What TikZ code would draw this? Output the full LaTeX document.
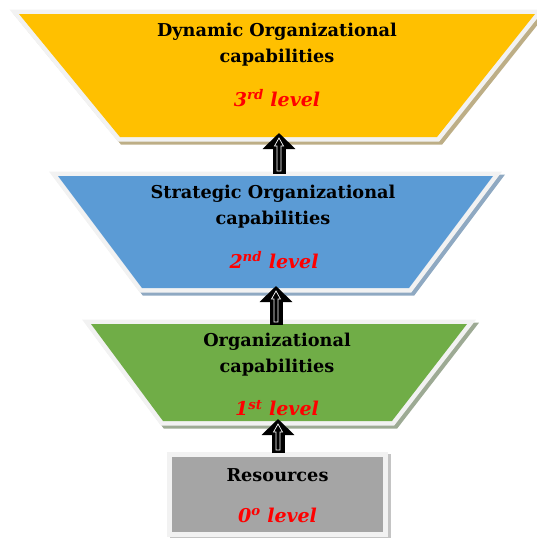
\documentclass[tikz,border=0pt]{standalone}
\usepackage{fontspec}
\setmainfont{DejaVu Serif}
\usetikzlibrary{arrows.meta,calc}
\definecolor{cyel}{HTML}{FFC000}
\definecolor{cblu}{HTML}{5B9BD5}
\definecolor{cgrn}{HTML}{70AD47}
\definecolor{cgry}{HTML}{A5A5A5}
\definecolor{syel}{HTML}{BDAE86}
\definecolor{sblu}{HTML}{8FA9C2}
\definecolor{sgrn}{HTML}{9DAA94}
\definecolor{sgry}{HTML}{C4C4C4}
\definecolor{bord}{HTML}{F2F2F2}
\definecolor{lvred}{HTML}{FF0000}
\tikzset{
  shadowband/.style={draw=#1, fill=#1, line width=9pt, line join=miter, shift={(3,3)}},
  whiteband/.style={draw=bord, fill=bord, line width=9pt, line join=miter},
  title/.style={font=\fontsize{17.7}{26}\selectfont\bfseries, align=center, inner sep=0pt, text=black},
  lvl/.style={font=\fontsize{19}{24}\selectfont\bfseries\itshape, text=lvred, inner sep=0pt},
  blockarrow/.style={line width=13pt, -{Triangle[width=32pt,length=16pt]}},
  innerarrow/.style={draw=white, line width=0.7pt, line join=miter}
}
\newcommand\mytrap[3]{%
  \path[shadowband=#2] #1;
  \path[whiteband] #1;
  \fill[#3] #1;}
\begin{document}
\begin{tikzpicture}[x=1pt,y=-1pt]
\useasboundingbox (0,0) rectangle (537,538);
% yellow level 3
\mytrap{(19,14) -- (535,14) -- (437,137) -- (120,137) -- cycle}{syel}{cyel}
% blue level 2
\mytrap{(58,176) -- (493,176) -- (409,288) -- (142,288) -- cycle}{sblu}{cblu}
% green level 1
\mytrap{(91,324) -- (467,324) -- (392,421) -- (163,421) -- cycle}{sgrn}{cgrn}
% gray level 0
\path[draw=sgry, fill=sgry, line width=10pt, shift={(3,2)}] (172,457) rectangle (383,532);
\path[draw=bord, fill=bord, line width=10pt] (172,457) rectangle (383,532);
\fill[cgry] (172,457) rectangle (383,532);

% texts
\node[title] (t3) at (277,45) {Dynamic Organizational\\capabilities};
\node[lvl] (l3) at (277,98) {3\textsuperscript{rd} level};
\node[title] (t2) at (273,206.5) {Strategic Organizational\\capabilities};
\node[lvl] (l2) at (274,260) {2\textsuperscript{nd} level};
\node[title] (t1) at (277,354.5) {Organizational\\capabilities};
\node[lvl] (l1) at (277,408) {1\textsuperscript{st} level};
\node[title] (t0) at (277.5,475) {Resources};
\node[lvl] (l0) at (277.5,515) {0\textsuperscript{o} level};

% arrow end points
\coordinate (a1s) at (279,174);
\coordinate (a1e) at (279,133);
\coordinate (a2s) at (276,325);
\coordinate (a2e) at (276,286);
\coordinate (a3s) at (278,453);
\coordinate (a3e) at (278,419);
\foreach \s/\e in {a1s/a1e, a2s/a2e, a3s/a3e}{
  \draw[blockarrow] (\s) -- (\e);
  \draw[innerarrow] ($(\s)+(-2,-3)$) -- ($(\e)+(-2,13)$) -- ($(\e)+(-4.5,13)$) -- ($(\e)+(0,5)$)
     -- ($(\e)+(4.5,13)$) -- ($(\e)+(2,13)$) -- ($(\s)+(2,-3)$) -- cycle;
}
\end{tikzpicture}
\end{document}
